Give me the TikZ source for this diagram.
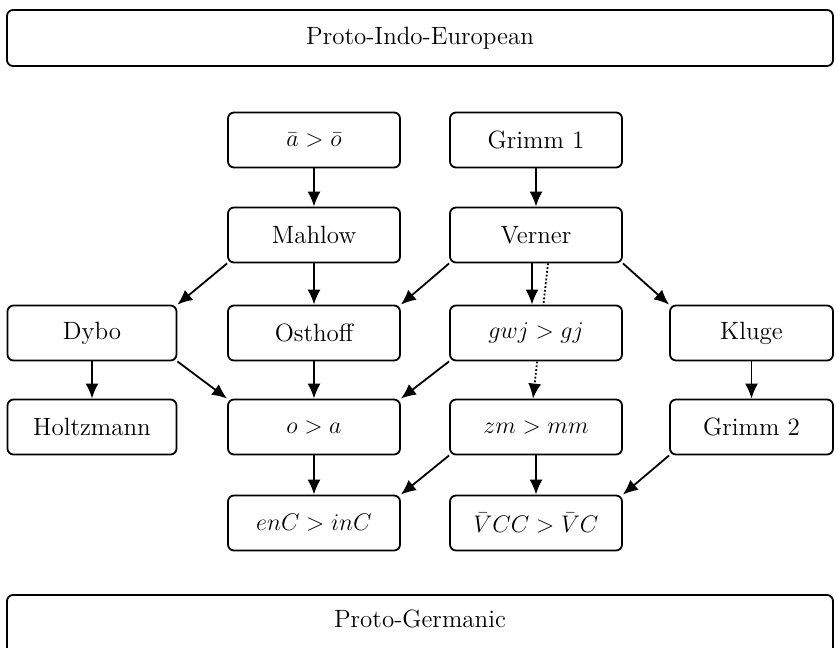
\documentclass[tikz,border=0pt]{standalone}
\usepackage{tikz}
\usetikzlibrary{arrows.meta}
\usetikzlibrary{backgrounds}
\tikzset{
	sound/.style={draw, rounded corners=3pt, line width=0.9pt, fill=white,
		minimum width=86pt, minimum height=27.5pt, inner sep=0pt,
		font=\fontsize{12.5}{15}\selectfont},
	proto/.style={sound, minimum width=413pt, minimum height=28pt},
	link/.style={-{Latex[length=7.5pt,width=6.5pt]}, line width=0.9pt},
}

\begin{document}
\begin{tikzpicture}[x=0.5pt,y=-0.5pt]
\useasboundingbox (0,0) rectangle (838,647);

\node[proto] (pie) at (420,38) {Proto-Indo-European};
% bottom box runs off the page
\node[proto, minimum height=33pt, text depth=9.5pt] (pgm) at (420,628) {Proto-Germanic};

\node[sound] (ao) at (314,140) {$\bar{a} > \bar{o}$};
\node[sound] (grimmA) at (536,140) {Grimm 1};
\node[sound] (mahlow) at (314,235) {Mahlow};
\node[sound] (verner) at (536,235) {Verner};

\node[sound, minimum width=84.5pt] (dybo) at (92,333) {Dybo};
\node[sound] (osthoff) at (314,333) {Osthoff};
\node[sound] (gwj) at (536,333) {$gwj > gj$};
\node[sound, minimum width=81.5pt] (kluge) at (751.5,333) {Kluge};

\node[sound, minimum width=84.5pt] (holtz) at (92,427) {Holtzmann};
\node[sound] (oa) at (314,427) {$o > a$};
\node[sound] (zm) at (536,427) {$zm > mm$};
\node[sound, minimum width=81.5pt] (grimmB) at (751.5,427) {Grimm 2};

\node[sound] (enc) at (314,523) {$enC > inC$};
\node[sound] (vcc) at (536,523) {$\bar{V}CC > \bar{V}C$};

\draw[link] (ao) -- (mahlow);
\draw[link] (grimmA) -- (verner);
\draw[link] (mahlow.south west) -- (dybo.north east);
\draw[link] (mahlow) -- (osthoff);
\draw[link] (verner.south west) -- (osthoff.north east);
\draw[link] ([xshift=-2pt]verner.south) -- ([xshift=-2pt]gwj.north);
\draw[link] (verner.south east) -- (kluge.north west);
\draw[link] (dybo) -- (holtz);
\draw[link] (dybo.south east) -- (oa.north west);
\draw[link] (osthoff) -- (oa);
\draw[link] (gwj.south west) -- (oa.north east);
\draw[link] (kluge) -- (grimmB);
\draw[link] (oa) -- (enc);
\draw[link] (zm.south west) -- (enc.north east);
\draw[link] (zm) -- (vcc);
\draw[link] (grimmB.south west) -- (vcc.north east);

\begin{pgfonlayer}{background}
\draw[link, densely dotted] ([xshift=6pt]verner.south) -- ([xshift=-1.5pt]zm.north);
\end{pgfonlayer}

\end{tikzpicture}
\end{document}
